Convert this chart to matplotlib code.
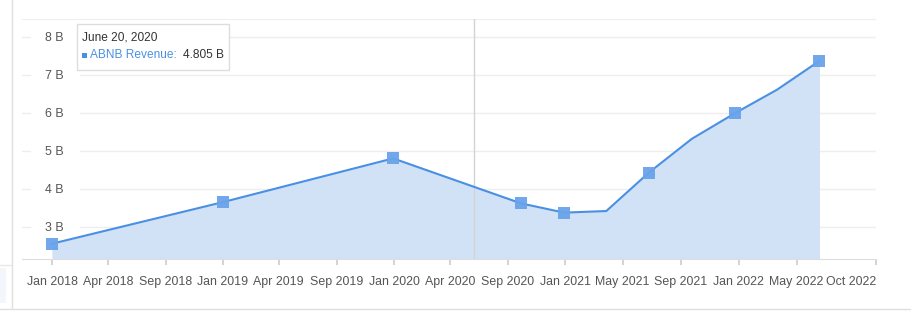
import matplotlib
matplotlib.use("Agg")
import matplotlib.pyplot as plt
from matplotlib.patches import Rectangle
from matplotlib.lines import Line2D
from datetime import datetime

plt.rcParams['font.family'] = ['Liberation Sans', 'DejaVu Sans']

# Data (trailing twelve month revenue, billions)
dates = ['2017-12-31', '2018-12-31', '2019-12-31', '2020-09-30', '2020-12-31', '2021-03-31',
         '2021-06-30', '2021-09-30', '2021-12-31', '2022-03-31', '2022-06-30']
revenue = [2.56, 3.652, 4.805, 3.62, 3.378, 3.42, 4.43, 5.32, 5.992, 6.61, 7.37]
has_marker = [True, True, True, True, True, False, True, False, True, False, True]

tick_dates = ['2018-01-01', '2018-04-30', '2018-08-31', '2019-01-01', '2019-04-30', '2019-09-02',
              '2020-01-02', '2020-04-30', '2020-09-01', '2021-01-02', '2021-05-05', '2021-09-07',
              '2022-01-08', '2022-05-12', '2022-10-29']
tick_labels = ['Jan 2018', 'Apr 2018', 'Sep 2018', 'Jan 2019', 'Apr 2019', 'Sep 2019', 'Jan 2020',
               'Apr 2020', 'Sep 2020', 'Jan 2021', 'May 2021', 'Sep 2021', 'Jan 2022', 'May 2022',
               'Oct 2022']
y_ticks = [3, 4, 5, 6, 7, 8]
y_labels = ['3 B', '4 B', '5 B', '6 B', '7 B', '8 B']

hover_date = '2020-06-20'
hover_title = 'June 20, 2020'
series_name = 'ABNB Revenue:'
hover_value = '4.805 B'

x = [datetime.strptime(d, '%Y-%m-%d') for d in dates]
xt = [datetime.strptime(d, '%Y-%m-%d') for d in tick_dates]

W, H = 911, 317
fig = plt.figure(figsize=(W / 100, H / 100), dpi=100)
ax = fig.add_axes([22 / W, 1 - 258.7 / H, 854 / W, 240 / H])

line_color = '#4a90e2'
fill_color = '#d1e1f6'
grid_color = '#eeeeee'
text_color = '#555555'
fs = 8.9
tip_fs = 8.6

ymin, ymax = 2.166, 8.48
ax.set_ylim(ymin, ymax)
ax.set_xlim(datetime(2017, 10, 28), datetime(2022, 10, 29))

# gridlines with a gap behind the y labels
for v, lab in zip(y_ticks, y_labels):
    ax.axhline(v, xmin=0, xmax=8 / 854, color=grid_color, lw=1, zorder=0)
    ax.axhline(v, xmin=58 / 854, xmax=1, color=grid_color, lw=1, zorder=0)
    ax.text(41.5 / 854, v, lab, transform=ax.get_yaxis_transform(), ha='right',
            va='center_baseline', fontsize=fs, color=text_color)
ax.axhline(ymax, color=grid_color, lw=1.5, zorder=0)

ax.fill_between(x, revenue, ymin, color=fill_color, lw=0, zorder=1)
ax.plot(x, revenue, color=line_color, lw=1.5, zorder=3)
mx = [d for d, m in zip(x, has_marker) if m]
my = [v for v, m in zip(revenue, has_marker) if m]
ax.plot(mx, my, 's', color='#6aa3ea', alpha=0.95, markersize=8, markeredgewidth=0, zorder=4)

# crosshair
ax.axvline(datetime.strptime(hover_date, '%Y-%m-%d'), color='#d3d3d3', lw=1, zorder=2)

for s in ['top', 'right', 'left']:
    ax.spines[s].set_visible(False)
ax.spines['bottom'].set_color('#dddddd')
ax.set_yticks([])
ax.set_xticks(xt)
ax.set_xticklabels(tick_labels)
ax.tick_params(axis='x', length=4.5, color='#cccccc', width=1.2, pad=8, labelsize=fs,
               labelcolor=text_color)
ax.get_xticklabels()[-1].set_horizontalalignment('right')

# page decorations
fig.add_artist(Line2D([11.5 / W, 11.5 / W], [1 - 308 / H, 1], transform=fig.transFigure,
                      color='#e0e0e0', lw=1))
fig.add_artist(Line2D([0, 1], [1 - 309 / H, 1 - 309 / H], transform=fig.transFigure,
                      color='#e0e0e0', lw=1))
fig.add_artist(Line2D([0, 11 / W], [1 - 264.5 / H, 1 - 264.5 / H], transform=fig.transFigure,
                      color='#e8e8e8', lw=1))
fig.add_artist(Rectangle((0, 1 - 303 / H), 6 / W, 35 / H, transform=fig.transFigure,
                         facecolor='#f3f6fb', edgecolor='none'))

# tooltip
fig.add_artist(Rectangle((77 / W, 1 - 70 / H), 152 / W, 46 / H, transform=fig.transFigure,
                         facecolor='white', edgecolor='#dddddd', lw=1, zorder=10))
fig.text(82 / W, 1 - 37 / H, hover_title, ha='left', va='center', fontsize=tip_fs,
         color='#333333', zorder=11)
fig.add_artist(Rectangle((82 / W, 1 - 58 / H), 5 / W, 5 / H, transform=fig.transFigure,
                         facecolor=line_color, edgecolor='none', zorder=11))
fig.text(89.5 / W, 1 - 55.5 / H, series_name, ha='left', va='center', fontsize=tip_fs,
         color=line_color, zorder=11)
fig.text(224 / W, 1 - 55.5 / H, hover_value, ha='right', va='center', fontsize=tip_fs,
         color='#333333', zorder=11)

fig.savefig('out.png', dpi=100)
